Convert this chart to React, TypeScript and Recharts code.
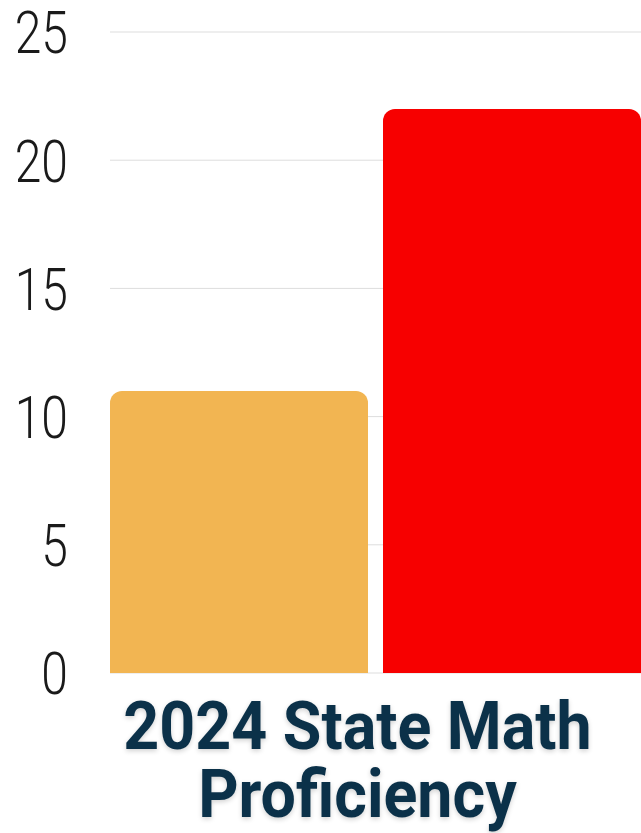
import { BarChart, Bar, XAxis, YAxis, CartesianGrid } from 'recharts';

const categories = ['2024 State Math Proficiency'];
const seriesA = [11];
const seriesB = [22];
const yTicks = [0, 5, 10, 15, 20, 25];

const data = categories.map((name, i) => ({ name, a: seriesA[i], b: seriesB[i] }));

function YTick(props: any) {
  const { x, y, payload } = props;
  return (
    <g transform={`translate(${x},${y}) scale(0.8,1)`}>
      <text
        x={0}
        y={0}
        dy="0.355em"
        textAnchor="end"
        fill="#1a1a1a"
        fontFamily="Roboto"
        fontWeight={300}
        fontSize={60}
      >
        {payload.value}
      </text>
    </g>
  );
}

export default function App() {
  return (
    <div
      style={{
        position: 'absolute',
        left: 0,
        top: 0,
        width: 641,
        height: 833,
        overflow: 'hidden',
        background: '#fff',
      }}
    >
      <BarChart
        width={641}
        height={700}
        data={data}
        margin={{ top: 32, right: 0, left: 0, bottom: 27 }}
        barCategoryGap={0}
        barGap={15}
      >
        <CartesianGrid vertical={false} stroke="#dddddd" />
        <XAxis dataKey="name" hide />
        <YAxis
          width={110}
          domain={[0, 25]}
          ticks={yTicks}
          interval={0}
          axisLine={false}
          tickLine={false}
          tickSize={0}
          tickMargin={42}
          tick={<YTick />}
        />
        <Bar dataKey="a" fill="#F2B552" radius={[12, 12, 0, 0]} isAnimationActive={false} />
        <Bar dataKey="b" fill="#F70000" radius={[12, 12, 0, 0]} isAnimationActive={false} />
      </BarChart>
      <div
        style={{
          position: 'absolute',
          left: 0,
          top: 693,
          width: 715,
          textAlign: 'center',
          fontFamily: 'Roboto',
          fontWeight: 700,
          fontSize: 66,
          lineHeight: '68px',
          color: '#0B3149',
          textShadow: '0 2px 5px rgba(0,0,0,0.18)',
          transform: 'scaleX(0.95)',
          transformOrigin: '357px 0',
        }}
      >
        2024 State Math
        <br />
        Proficiency
      </div>
    </div>
  );
}
